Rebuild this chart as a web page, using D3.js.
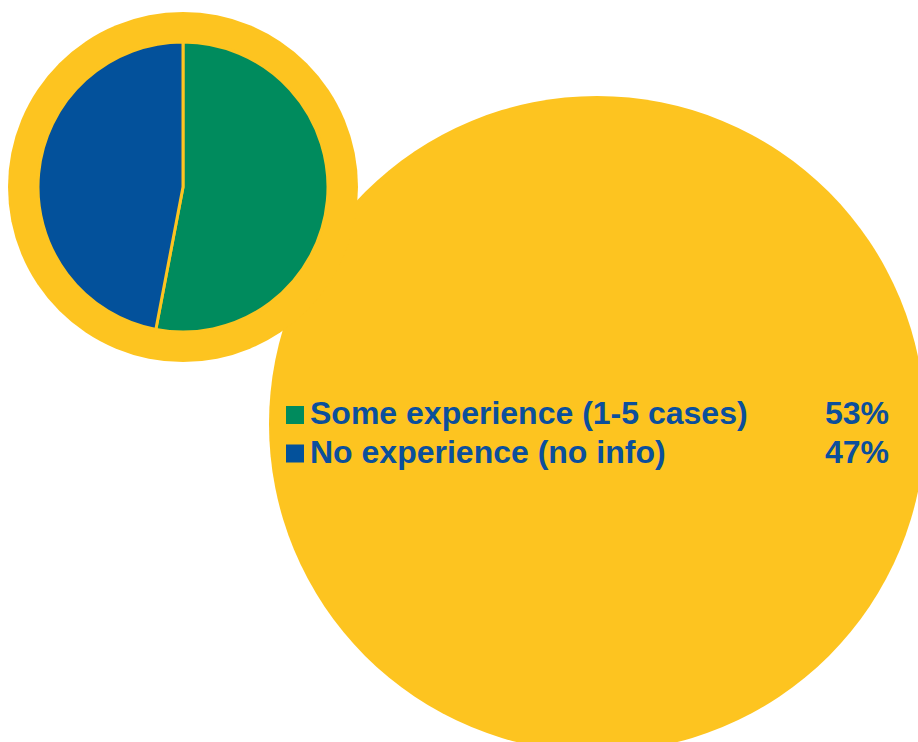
<!DOCTYPE html>
<html>
<head>
<meta charset="utf-8">
<script src="https://cdn.jsdelivr.net/npm/d3@7"></script>
<style>
  html, body { margin: 0; padding: 0; background: #ffffff; }
  svg { display: block; }
</style>
</head>
<body>
<svg id="chart" width="918" height="742"></svg>
<script>
const categories = ["Some experience (1-5 cases)", "No experience (no info)"];
const values = [53, 47];
const valueLabels = ["53%", "47%"];
const colors = ["#008B5D", "#03519B"];

const YELLOW = "#FDC420";
const TEXT = "#0B4F9C";

const svg = d3.select("#chart");

// big background disc
svg.append("circle")
  .attr("cx", 597).attr("cy", 424).attr("r", 328)
  .attr("fill", YELLOW);

// small disc with pie
const g = svg.append("g").attr("transform", "translate(183,187)");
g.append("circle").attr("r", 175).attr("fill", YELLOW);

const pie = d3.pie().sort(null).value(d => d)(values);
const arc = d3.arc().innerRadius(0).outerRadius(145);
g.selectAll("path.slice")
  .data(pie)
  .join("path")
  .attr("class", "slice")
  .attr("d", arc)
  .attr("fill", (d, i) => colors[i])
  .attr("stroke", YELLOW)
  .attr("stroke-width", 3)
  .attr("stroke-linejoin", "miter");

// legend
const y = d3.scaleBand().domain(categories).range([396, 473]);
const leg = svg.append("g");
const rows = leg.selectAll("g.row")
  .data(categories)
  .join("g")
  .attr("class", "row")
  .attr("transform", d => `translate(0,${y(d)})`);

rows.append("rect")
  .attr("x", 286).attr("y", 10)
  .attr("width", 18).attr("height", 18)
  .attr("fill", (d, i) => colors[i]);

rows.append("text")
  .attr("x", 310).attr("y", 28)
  .attr("font-family", "'Liberation Sans', Arial, Helvetica, sans-serif")
  .attr("font-weight", "bold")
  .attr("font-size", 32)
  .attr("fill", TEXT)
  .text(d => d);

rows.append("text")
  .attr("x", 889).attr("y", 28)
  .attr("text-anchor", "end")
  .attr("font-family", "'Liberation Sans', Arial, Helvetica, sans-serif")
  .attr("font-weight", "bold")
  .attr("font-size", 32)
  .attr("fill", TEXT)
  .text((d, i) => valueLabels[i]);
</script>
</body>
</html>
